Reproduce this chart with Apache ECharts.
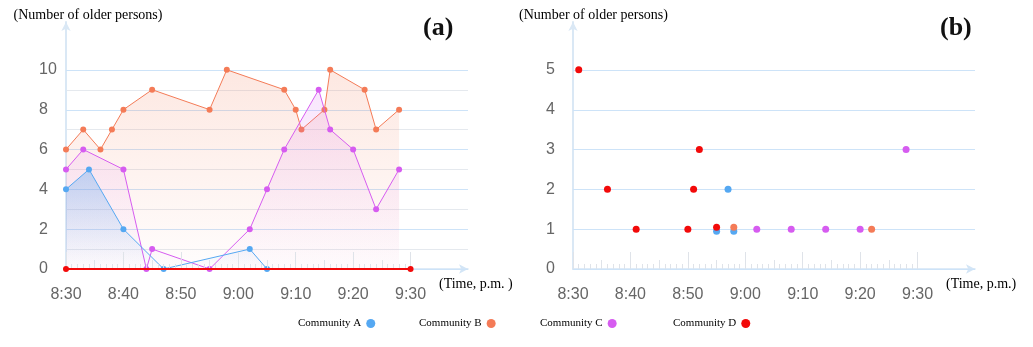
<!DOCTYPE html>
<html><head><meta charset="utf-8">
<script src="https://cdn.jsdelivr.net/npm/echarts@6/dist/echarts.min.js"></script>
<style>html,body{margin:0;padding:0;background:#fff}#c{width:1033px;height:347px}</style>
</head><body><div id="c"></div>
<script>
// ---------- data ----------
const seriesNames = ['Community A', 'Community B', 'Community C', 'Community D'];

// Panel (a): number of older persons over time (line chart)
const aTimesA = ['8:30', '8:34', '8:40', '8:47', '9:02', '9:05'];
const aValsA  = [4, 5, 2, 0, 1, 0];
const aTimesB = ['8:30', '8:33', '8:36', '8:38', '8:40', '8:45', '8:55', '8:58', '9:08', '9:10', '9:11', '9:15', '9:16', '9:22', '9:24', '9:28'];
const aValsB  = [6, 7, 6, 7, 8, 9, 8, 10, 9, 8, 7, 8, 10, 9, 7, 8];
const aTimesC = ['8:30', '8:33', '8:40', '8:44', '8:45', '8:55', '9:02', '9:05', '9:08', '9:14', '9:16', '9:20', '9:24', '9:28'];
const aValsC  = [5, 6, 5, 0, 1, 0, 2, 4, 6, 9, 7, 6, 3, 5];
const aTimesD = ['8:30', '9:30'];
const aValsD  = [0, 0];

// Panel (b): scatter
const bTimesA = ['8:55', '8:57', '8:58'];
const bValsA  = [0.95, 2, 0.95];
const bTimesB = ['8:58', '9:22'];
const bValsB  = [1.05, 1];
const bTimesC = ['9:02', '9:08', '9:14', '9:20', '9:28'];
const bValsC  = [1, 1, 1, 1, 3];
const bTimesD = ['8:31', '8:36', '8:41', '8:50', '8:51', '8:52', '8:55'];
const bValsD  = [5, 2, 1, 1, 2, 3, 1.05];

const xTickLabels = ['8:30', '8:40', '8:50', '9:00', '9:10', '9:20', '9:30'];

// ---------- helpers ----------
const START = 8 * 60 + 30;
function toMin(s) { const p = s.split(':').map(Number); return p[0] * 60 + p[1] - START; }
function pairs(ts, vs) { return ts.map((t, i) => [toMin(t), vs[i]]); }
function fmtTime(v) {
  const idx = Math.round(v / 10);
  return (v % 10 === 0 && idx < xTickLabels.length) ? xTickLabels[idx] : '';
}

const colors = ['#55a8f2', '#f47b57', '#d65cf0', '#f20a0a'];
const SERIF = '"Times New Roman", "Liberation Serif", serif';
const SANS = 'Helvetica, "Liberation Sans", Arial, sans-serif';
const axisBlue = '#d3e5f6';
const tickGray = '#dfe3e9';

function grad(r, g, b, a0, a1) {
  return { type: 'linear', x: 0, y: 0, x2: 0, y2: 1,
    colorStops: [{ offset: 0, color: `rgba(${r},${g},${b},${a0})` }, { offset: 1, color: `rgba(${r},${g},${b},${a1})` }] };
}

const chart = echarts.init(document.getElementById('c'), null, { renderer: 'canvas' });

const tickW = 402 * 60 / 70;

function mainX(gridIndex, name) {
  return {
    type: 'value', gridIndex, position: 'bottom', min: 0, max: 70, interval: 10,
    axisLine: { show: true, symbol: ['none', 'arrow'], symbolSize: [7, 9], lineStyle: { color: axisBlue, width: 1.5 } },
    axisTick: { show: false }, splitLine: { show: false },
    axisLabel: { formatter: fmtTime, margin: 18, color: '#666', fontSize: 16, fontFamily: SANS },
    name, nameLocation: 'end', nameGap: -29,
    nameTextStyle: { fontFamily: SERIF, fontSize: 14, color: '#000', verticalAlign: 'top', padding: [8, 0, 0, 0] }
  };
}
function tickX(gridIndex, interval, len, minor) {
  return {
    type: 'value', gridIndex, position: 'bottom', min: 0, max: 60, interval, z: 6,
    axisLine: { show: false }, axisLabel: { show: false }, splitLine: { show: false },
    axisTick: { show: true, inside: true, length: len, lineStyle: { color: tickGray } },
    minorTick: { show: minor, splitNumber: 10, length: 5, lineStyle: { color: tickGray } }
  };
}
function mainY(gridIndex, max, interval, labelMax, padLeft) {
  return {
    type: 'value', gridIndex, min: 0, max, interval,
    axisLine: { show: true, symbol: ['none', 'arrow'], symbolSize: [7, 9], lineStyle: { color: '#dae8f5', width: 2 } },
    axisTick: { show: false }, splitLine: { show: false },
    axisLabel: { formatter: v => (v <= labelMax ? String(v) : ''), align: 'left', margin: 27, color: '#666', fontSize: 16, fontFamily: SANS },
    name: '(Number of older persons)', nameLocation: 'end', nameGap: 0,
    nameTextStyle: { fontFamily: SERIF, fontSize: 14, color: '#000', padding: [0, 0, 0, padLeft], align: 'center' }
  };
}
function lineY(gridIndex, max, interval, color, z) {
  return {
    type: 'value', gridIndex, min: 0, max, interval, z,
    axisLine: { show: false }, axisTick: { show: false }, axisLabel: { show: false },
    splitLine: { show: true, lineStyle: { color, width: 1 } }
  };
}
const hiddenX = g => ({ type: 'value', gridIndex: g, min: 0, max: 70, show: false });
const hiddenY = g => ({ type: 'value', gridIndex: g, min: 0, max: 1, show: false });

const lineSeries = (i, data, area, z) => ({
  name: seriesNames[i], type: 'line', xAxisIndex: 0, yAxisIndex: 0, data,
  symbol: 'circle', symbolSize: 6, showSymbol: true,
  itemStyle: { color: colors[i] },
  lineStyle: { color: colors[i], width: i === 3 ? 2 : 1 },
  areaStyle: area || undefined, z
});
const scatterSeries = (i, data) => ({
  name: seriesNames[i], type: 'scatter', xAxisIndex: 4, yAxisIndex: 4, data,
  symbol: 'circle', symbolSize: 7, itemStyle: { color: colors[i], opacity: 1 }, z: 8
});

const legendLefts = [293, 414, 535, 668];
const legends = seriesNames.map((n, i) => ({
  data: [n], icon: 'circle', align: 'right', left: legendLefts[i], top: 313,
  itemWidth: 9, itemHeight: 9,
  textStyle: { fontFamily: SERIF, fontSize: 11, color: '#000' }
}));

chart.setOption({
  animation: false,
  backgroundColor: '#fff',
  title: [
    { text: '(a)', left: 418, top: 10, textStyle: { fontFamily: SERIF, fontSize: 26, fontWeight: 'bold', color: '#111' } },
    { text: '(b)', left: 935, top: 10, textStyle: { fontFamily: SERIF, fontSize: 26, fontWeight: 'bold', color: '#111' } }
  ],
  legend: legends,
  grid: [
    { left: 66, right: 565, top: 22, bottom: 78 },
    { left: 66, right: 565, top: 70, bottom: 78 },
    { left: 66, width: tickW, top: 22, bottom: 78 },
    { left: 573, right: 58, top: 22, bottom: 78 },
    { left: 573, right: 58, top: 70, bottom: 78 },
    { left: 573, width: tickW, top: 22, bottom: 78 }
  ],
  xAxis: [
    mainX(0, '(Time, p.m. )'), hiddenX(1), tickX(2, 10, 17, true), tickX(2, 5, 9, false),
    mainX(3, '(Time, p.m.)'), hiddenX(4), tickX(5, 10, 17, true), tickX(5, 5, 9, false)
  ],
  yAxis: [
    mainY(0, 12.4, 2, 10, 44), lineY(1, 10, 1, '#e5e9ee', 0), lineY(1, 10, 2, '#cde3f8', 1), hiddenY(2),
    mainY(3, 6.2, 1, 5, 41), lineY(4, 5, 1, '#cde3f8', 1), hiddenY(5)
  ],
  series: [
    lineSeries(0, pairs(aTimesA, aValsA), { color: grad(85, 165, 242, 0.5, 0.0), origin: 'start' }, 5),
    lineSeries(1, pairs(aTimesB, aValsB), { color: grad(244, 123, 87, 0.25, 0.02), origin: 'start' }, 3),
    lineSeries(2, pairs(aTimesC, aValsC), { color: grad(214, 92, 240, 0.22, 0.02), origin: 'start' }, 4),
    lineSeries(3, pairs(aTimesD, aValsD), null, 8),
    scatterSeries(0, pairs(bTimesA, bValsA)),
    scatterSeries(1, pairs(bTimesB, bValsB)),
    scatterSeries(2, pairs(bTimesC, bValsC)),
    scatterSeries(3, pairs(bTimesD, bValsD))
  ]
});
</script></body></html>
